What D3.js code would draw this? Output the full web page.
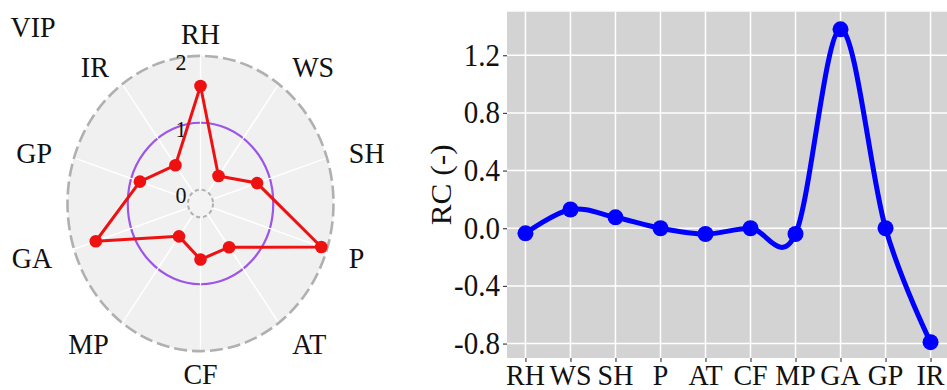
<!DOCTYPE html>
<html><head><meta charset="utf-8">
<script src="https://cdn.jsdelivr.net/npm/d3@7"></script>
<style>
html,body{margin:0;padding:0;background:#fff;}
svg{display:block;}
</style></head>
<body>
<svg id="c" width="947" height="390" font-family="Liberation Serif"></svg>
<script>
// ---- data ----
const radarCategories = ["RH","WS","SH","P","AT","CF","MP","GA","GP","IR"];
const vipValues = [1.55, 0.30, 0.78, 1.90, 0.60, 0.63, 0.40, 1.62, 0.85, 0.50];
const radarTicks = [0, 1, 2];
const rcCategories = ["RH","WS","SH","P","AT","CF","MP","GA","GP","IR"];
const rcValues = [-0.035, 0.13, 0.076, 0.0, -0.04, 0.0, -0.04, 1.38, 0.0, -0.79];
const rcTicks = [-0.8, -0.4, 0.0, 0.4, 0.8, 1.2];

const FONT = "Liberation Serif";
const svg = d3.select("#c");
const TS = 1.08; // vertical text stretch
function txt(g, x, y, s, size, anchor) {
  return g.append("text")
    .attr("transform", `translate(${x},${y}) scale(1,${TS})`)
    .attr("text-anchor", anchor || "middle")
    .attr("dominant-baseline", "central")
    .attr("font-family", FONT)
    .attr("font-size", size)
    .attr("fill", "#111")
    .text(s);
}

// ---- radar (VIP) ----
const cx = 200.5, cy = 203.5, kY = 1.11;
const r = d3.scaleLinear().domain([0, 2]).range([12.5, 133]);
const step = 2 * Math.PI / radarCategories.length;
const a = c => radarCategories.indexOf(c) * step;
const px = (c, v) => cx + r(v) * Math.sin(a(c));
const py = (c, v) => cy - r(v) * Math.cos(a(c)) * kY;

const gR = svg.append("g");
gR.append("ellipse").attr("cx", cx).attr("cy", cy)
  .attr("rx", r(2)).attr("ry", r(2) * kY).attr("fill", "#f0f0f0");
gR.selectAll("line.spoke").data(radarCategories).join("line")
  .attr("x1", c => px(c, 0)).attr("y1", c => py(c, 0))
  .attr("x2", c => px(c, 2)).attr("y2", c => py(c, 2))
  .attr("stroke", "#fff").attr("stroke-width", 1.5);
gR.append("ellipse").attr("cx", cx).attr("cy", cy)
  .attr("rx", r(1)).attr("ry", r(1) * kY)
  .attr("fill", "none").attr("stroke", "#9b55e8").attr("stroke-width", 2.2);
gR.selectAll("line.spoke2").data(radarCategories).join("line")
  .attr("x1", c => px(c, 0.9)).attr("y1", c => py(c, 0.9))
  .attr("x2", c => px(c, 1.1)).attr("y2", c => py(c, 1.1))
  .attr("stroke", "#fff").attr("stroke-width", 1.2);
gR.append("ellipse").attr("cx", cx).attr("cy", cy)
  .attr("rx", r(2)).attr("ry", r(2) * kY)
  .attr("fill", "none").attr("stroke", "#b0b0b0").attr("stroke-width", 2.6)
  .attr("stroke-dasharray", "13,5");
gR.append("ellipse").attr("cx", cx).attr("cy", cy)
  .attr("rx", r(0)).attr("ry", r(0) * kY)
  .attr("fill", "#f3f3f3").attr("stroke", "#b0b0b0").attr("stroke-width", 2)
  .attr("stroke-dasharray", "4,3");
radarTicks.forEach(t => {
  txt(gR, 181, cy - r(t) * kY + 6, String(t), 22, "middle");
});
const pts = radarCategories.map((c, i) => [px(c, vipValues[i]), py(c, vipValues[i])]);
gR.append("path").attr("d", d3.line().curve(d3.curveLinearClosed)(pts))
  .attr("fill", "none").attr("stroke", "#ee1111").attr("stroke-width", 3)
  .attr("stroke-linejoin", "round");
gR.selectAll("circle.pt").data(pts).join("circle")
  .attr("cx", d => d[0]).attr("cy", d => d[1]).attr("r", 6.3).attr("fill", "#ee1111");
radarCategories.forEach(c => {
  const s = Math.sin(a(c));
  const anchor = Math.abs(s) < 0.1 ? "middle" : (s > 0 ? "start" : "end");
  const lx = cx + 156 * s;
  const ly = Math.min(cy - 171 * Math.cos(a(c)) + 1.5, 374);
  txt(gR, lx, ly, c, 28, anchor);
});
txt(gR, 33, 27, "VIP", 28, "middle");

// ---- right: RC line chart ----
const L = 507, T = 11.7, R = 949, B = 358;
const x = d3.scalePoint().domain(rcCategories).range([L, R]).padding(0.41);
const y = d3.scaleLinear().domain([-0.9, 1.502]).range([B, T]);
const gC = svg.append("g");
gC.append("rect").attr("x", L).attr("y", T).attr("width", R - L).attr("height", B - T).attr("fill", "#d3d3d3");
gC.selectAll("line.gy").data(rcTicks).join("line")
  .attr("x1", L).attr("x2", R).attr("y1", d => y(d)).attr("y2", d => y(d))
  .attr("stroke", "#fff").attr("stroke-width", 1.5);
gC.selectAll("line.gx").data(rcCategories).join("line")
  .attr("y1", T).attr("y2", B).attr("x1", d => x(d)).attr("x2", d => x(d))
  .attr("stroke", "#fff").attr("stroke-width", 1.5);

const yAxis = d3.axisLeft(y).tickValues(rcTicks).tickFormat(d => d.toFixed(1)).tickSize(4).tickPadding(3);
const gy = gC.append("g").attr("transform", `translate(${L},0)`).call(yAxis);
gy.select(".domain").remove();
gy.selectAll(".tick line").attr("stroke", "#444").attr("stroke-width", 1.2);
gy.selectAll(".tick text").remove();
rcTicks.forEach(t => txt(gC, L - 7, y(t), t.toFixed(1), 29, "end"));

const xAxis = d3.axisBottom(x).tickSize(4);
const gx = gC.append("g").attr("transform", `translate(0,${B})`).call(xAxis);
gx.select(".domain").remove();
gx.selectAll(".tick line").attr("stroke", "#444").attr("stroke-width", 1.2);
gx.selectAll(".tick text").remove();
rcCategories.forEach(c => txt(gC, x(c), 374.5, c, 28, "middle"));

gC.append("text")
  .attr("transform", `translate(441,${(T + B) / 2}) rotate(-90) scale(${TS},1)`)
  .attr("text-anchor", "middle").attr("dominant-baseline", "central")
  .attr("font-family", FONT)
  .attr("font-size", 29).attr("fill", "#111").text("RC (-)");

const line = d3.line().x((d, i) => x(rcCategories[i])).y(d => y(d)).curve(d3.curveCardinal.tension(0));
gC.append("path").datum(rcValues).attr("d", line)
  .attr("fill", "none").attr("stroke", "#0000ff").attr("stroke-width", 5).attr("stroke-linejoin", "round");
gC.selectAll("circle.rc").data(rcValues).join("circle")
  .attr("cx", (d, i) => x(rcCategories[i])).attr("cy", d => y(d)).attr("r", 8).attr("fill", "#0000ff");
</script>
</body></html>
